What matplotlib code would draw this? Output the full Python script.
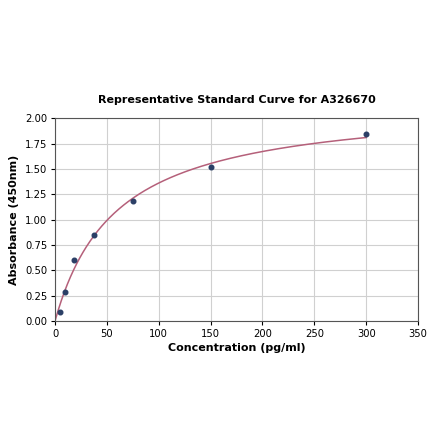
import numpy as np
import matplotlib
matplotlib.use("Agg")
import matplotlib.pyplot as plt

# standard points
conc = np.array([4.69, 9.38, 18.75, 37.5, 75, 150, 300])
absorb = np.array([0.09, 0.285, 0.60, 0.847, 1.18, 1.52, 1.84])

title = "Representative Standard Curve for A326670"
xlab = "Concentration (pg/ml)"
ylab = "Absorbance (450nm)"


# simple hyperbolic fit y = vmax*x/(k+x), grid over k, vmax by least squares
def fit_curve(x, y):
	best = None
	for k in np.linspace(1, 300, 3000):
		g = x / (k + x)
		vmax = np.dot(g, y) / np.dot(g, g)
		err = np.sum((vmax * g - y) ** 2)
		if best is None or err < best[0]:
			best = (err, k, vmax)
	return best[1], best[2]


k, vmax = fit_curve(conc, absorb)
xs = np.linspace(0, conc.max(), 400)
ys = vmax * xs / (k + xs)

fig = plt.figure(figsize=(4.4, 4.41), dpi=100)
ax = fig.add_axes([0.125, 0.272, 0.825, 0.460])

ax.plot(xs, ys, color="#b5607a", lw=1.1, zorder=2)
ax.scatter(conc, absorb, s=11, color="#2b3f66", zorder=3)

ax.set_xlim(0, 350)
ax.set_ylim(0, 2.0)
ax.set_xticks(np.arange(0, 351, 50))
ax.set_yticks(np.arange(0, 2.01, 0.25))
ax.yaxis.set_major_formatter(matplotlib.ticker.FormatStrFormatter("%.2f"))
ax.tick_params(labelsize=7.2, length=3, pad=2.5)
ax.grid(color="#d0d0d0", lw=0.8)
ax.set_axisbelow(True)
for s in ax.spines.values():
	s.set_color("#555555")

ax.set_title(title, fontsize=8, fontweight="bold", pad=11)
ax.set_xlabel(xlab, fontsize=8, fontweight="bold", labelpad=3)
ax.set_ylabel(ylab, fontsize=8, fontweight="bold", labelpad=4)

fig.savefig("out.png", dpi=100)
